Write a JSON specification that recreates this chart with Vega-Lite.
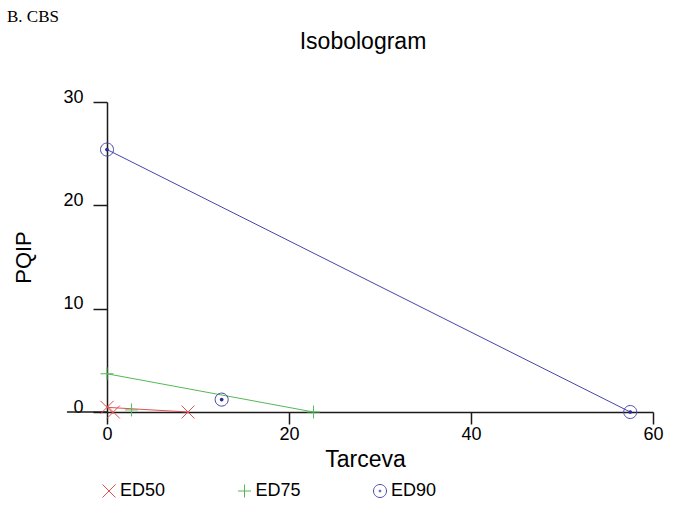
{
  "$schema": "https://vega.github.io/schema/vega-lite/v6.json",
  "background": "white",
  "padding": {"left": 6, "top": 8, "right": 5, "bottom": 5},
  "title": {"text": "B. CBS", "anchor": "start", "frame": "bounds", "font": "Liberation Serif", "fontSize": 17, "fontWeight": "normal", "color": "#000000", "dx": -6, "offset": 5},
  "datasets": {
    "pts": [
      {"series": "ED50", "type": "single", "tarceva": 0, "pqip": 0.45},
      {"series": "ED50", "type": "single", "tarceva": 8.9, "pqip": 0},
      {"series": "ED50", "type": "combo", "tarceva": 0.7, "pqip": 0},
      {"series": "ED75", "type": "single", "tarceva": 0, "pqip": 3.7},
      {"series": "ED75", "type": "single", "tarceva": 22.7, "pqip": 0},
      {"series": "ED75", "type": "combo", "tarceva": 2.7, "pqip": 0.2},
      {"series": "ED90", "type": "single", "tarceva": 0, "pqip": 25.4},
      {"series": "ED90", "type": "single", "tarceva": 57.5, "pqip": 0},
      {"series": "ED90", "type": "combo", "tarceva": 12.6, "pqip": 1.2}
    ],
    "axisline": [
      {"tarceva": -4.4, "tarceva2": 0, "pqip": 0}
    ]
  },
  "vconcat": [
    {
      "width": 546,
      "height": 310,
      "title": {"text": "Isobologram", "font": "Liberation Sans", "fontSize": 23, "fontWeight": "normal", "color": "#000000", "dx": -17, "offset": 34},
      "encoding": {
        "x": {"field": "tarceva", "type": "quantitative", "scale": {"domain": [0, 60], "nice": false, "zero": false},
              "axis": {"title": "Tarceva", "values": [0, 20, 40, 60], "tickSize": 12, "labelPadding": 1, "titleFontSize": 23, "titlePadding": 5, "titleX": 258, "labelFlush": false, "labelOverlap": false}},
        "y": {"field": "pqip", "type": "quantitative", "scale": {"domain": [0, 30], "nice": false, "zero": false},
              "axis": {"title": "PQIP", "values": [0, 10, 20, 30], "tickSize": 14, "labelPadding": 10, "titleFontSize": 22, "titlePadding": 27, "labelBaseline": "alphabetic"}}
      },
      "layer": [
        {
          "data": {"name": "axisline"},
          "mark": {"type": "rule", "color": "#1a1a1a", "strokeWidth": 1.5},
          "encoding": {"x2": {"field": "tarceva2"}}
        },
        {
          "data": {"name": "pts"},
          "transform": [{"filter": "datum.type === 'single' && datum.series === 'ED50'"}],
          "mark": {"type": "line", "strokeWidth": 1, "color": "#e05050"},
          "encoding": {}
        },
        {
          "data": {"name": "pts"},
          "transform": [{"filter": "datum.type === 'single' && datum.series === 'ED75'"}],
          "mark": {"type": "line", "strokeWidth": 1, "color": "#55b855"},
          "encoding": {}
        },
        {
          "data": {"name": "pts"},
          "transform": [{"filter": "datum.type === 'single' && datum.series === 'ED90'"}],
          "mark": {"type": "line", "strokeWidth": 1, "color": "#4646a8"},
          "encoding": {}
        },
        {
          "data": {"name": "pts"},
          "mark": {"type": "point", "filled": false, "strokeWidth": 1, "size": 169, "opacity": 1},
          "encoding": {
            "color": {"field": "series", "type": "nominal", "scale": {"domain": ["ED50", "ED75", "ED90"], "range": ["#e05050", "#55b855", "#4646a8"]},
                      "legend": {"title": null, "orient": "none", "legendX": -7, "legendY": 380, "direction": "horizontal", "columns": 3, "columnPadding": 69.5, "labelOffset": 2, "labelFontSize": 18, "labelFont": "Liberation Sans", "labelColor": "#000000", "symbolSize": 169, "symbolStrokeWidth": 1, "padding": 0}},
            "shape": {"field": "series", "type": "nominal", "scale": {"domain": ["ED50", "ED75", "ED90"], "range": ["M-1,-1L1,1M-1,1L1,-1", "M-1,0L1,0M0,-1L0,1", "M-1,0A1,1 0 1,0 1,0A1,1 0 1,0 -1,0ZM-0.15,0A0.15,0.15 0 1,0 0.15,0A0.15,0.15 0 1,0 -0.15,0Z"]},
                      "legend": {"title": null, "orient": "none", "legendX": -7, "legendY": 380, "direction": "horizontal", "columns": 3, "columnPadding": 69.5, "labelOffset": 2, "labelFontSize": 18, "labelFont": "Liberation Sans", "labelColor": "#000000", "symbolSize": 169, "symbolStrokeWidth": 1, "padding": 0}}
          }
        },
        {
          "data": {"name": "pts"},
          "transform": [{"filter": "datum.series === 'ED90'"}],
          "mark": {"type": "point", "filled": true, "size": 14, "color": "#2e2e9a", "opacity": 1},
          "encoding": {}
        }
      ]
    }
  ],
  "config": {
    "view": {"stroke": null},
    "axis": {"grid": false, "domainColor": "#1a1a1a", "domainWidth": 1.5, "tickColor": "#1a1a1a", "tickWidth": 1.5, "labelFont": "Liberation Sans", "labelFontSize": 18, "labelColor": "#000000", "titleFont": "Liberation Sans", "titleFontWeight": "normal", "titleColor": "#000000"}
  }
}
